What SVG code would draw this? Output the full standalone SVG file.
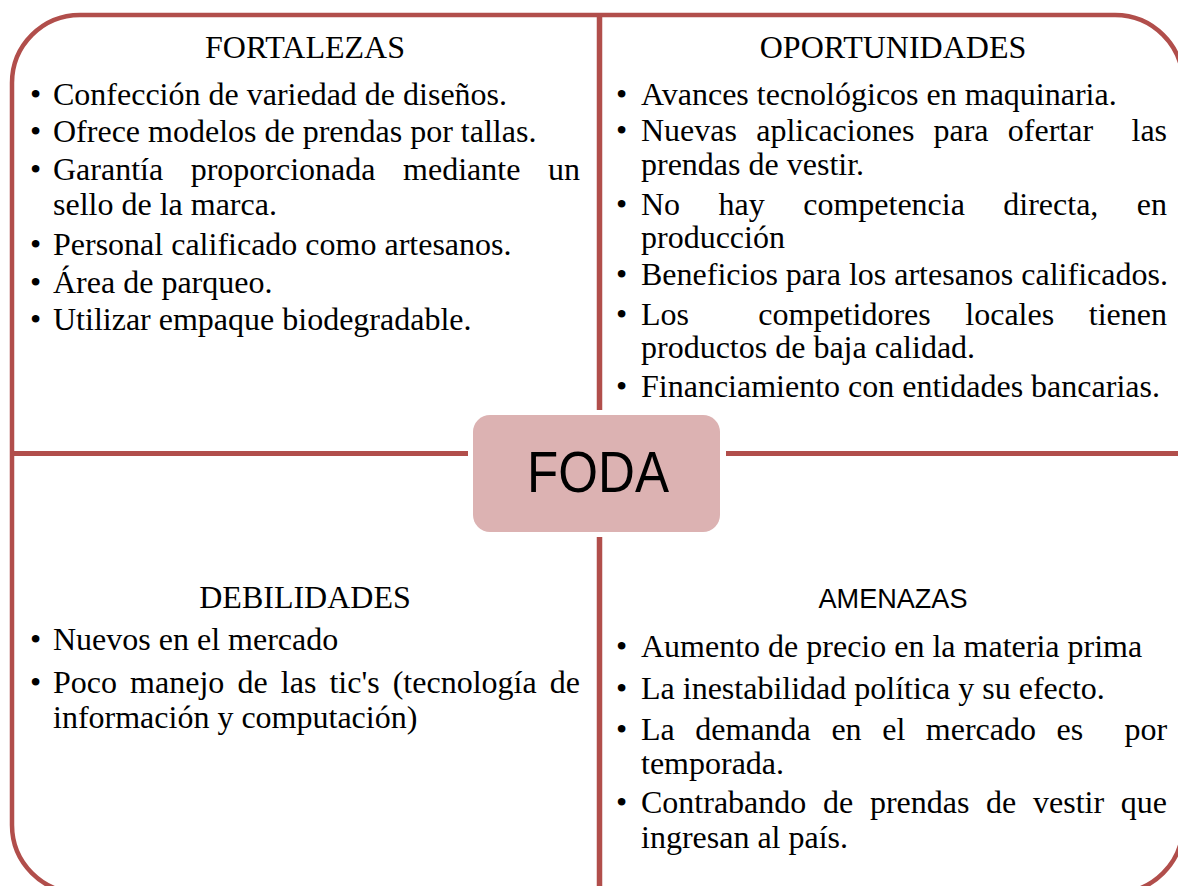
<svg xmlns="http://www.w3.org/2000/svg" width="1178" height="886" viewBox="0 0 1178 886">
<style>
.t{font-family:"Liberation Serif","Times New Roman",serif;font-size:32px;fill:#000}
.h{text-anchor:middle}
.s{font-family:"Liberation Sans",Arial,sans-serif;fill:#000}
.ln{stroke:#b14e4b;fill:none}
</style>
<rect width="1178" height="886" fill="#fff"/>
<g id="connectors">
<rect class="ln" x="12" y="15" width="1171" height="878" rx="68" ry="68" stroke-width="4.5"/>
<line class="ln" x1="599.5" y1="15" x2="599.5" y2="410" stroke-width="5.5"/>
<line class="ln" x1="599.5" y1="537" x2="599.5" y2="893" stroke-width="5.5"/>
<line class="ln" x1="12" y1="453.5" x2="468" y2="453.5" stroke-width="5"/>
<line class="ln" x1="726" y1="453.5" x2="1183" y2="453.5" stroke-width="5"/>
</g>
<g id="foda">
<rect x="473" y="415" width="247" height="117" rx="17" ry="17" fill="#dcb2b2"/>
<text class="s" x="598" y="492" font-size="58" text-anchor="middle" textLength="142" lengthAdjust="spacingAndGlyphs">FODA</text>
</g>
<g id="fortalezas" class="t">
<text class="h" x="305" y="58">FORTALEZAS</text>
<text x="30" y="105">•</text><text x="53" y="105">Confección de variedad de diseños.</text>
<text x="30" y="142">•</text><text x="53" y="142">Ofrece modelos de prendas por tallas.</text>
<text x="30" y="180">•</text><text y="180"><tspan x="53">Garantía</tspan><tspan x="190.7">proporcionada</tspan><tspan x="403.1">mediante</tspan><tspan x="548">un</tspan></text>
<text x="53" y="215">sello de la marca.</text>
<text x="30" y="255">•</text><text x="53" y="255">Personal calificado como artesanos.</text>
<text x="30" y="293">•</text><text x="53" y="293">Área de parqueo.</text>
<text x="30" y="330">•</text><text x="53" y="330">Utilizar empaque biodegradable.</text>
</g>
<g id="oportunidades" class="t">
<text class="h" x="893" y="58">OPORTUNIDADES</text>
<text x="616" y="105">•</text><text x="641" y="105">Avances tecnológicos en maquinaria.</text>
<text x="616" y="141">•</text><text y="141"><tspan x="641">Nuevas</tspan><tspan x="756.2">aplicaciones</tspan><tspan x="933.5">para</tspan><tspan x="1007.8">ofertar</tspan><tspan x="1131.5">las</tspan></text>
<text x="641" y="175">prendas de vestir.</text>
<text x="616" y="215">•</text><text y="215"><tspan x="641">No</tspan><tspan x="718.5">hay</tspan><tspan x="803.2">competencia</tspan><tspan x="1003.3">directa,</tspan><tspan x="1136.8">en</tspan></text>
<text x="641" y="248">producción</text>
<text x="616" y="285">•</text><text x="641" y="285">Beneficios para los artesanos calificados.</text>
<text x="616" y="325">•</text><text y="325"><tspan x="641">Los</tspan><tspan x="758.3">competidores</tspan><tspan x="965.3">locales</tspan><tspan x="1088.8">tienen</tspan></text>
<text x="641" y="358">productos de baja calidad.</text>
<text x="616" y="397">•</text><text x="641" y="397">Financiamiento con entidades bancarias.</text>
</g>
<g id="debilidades" class="t">
<text class="h" x="305" y="608">DEBILIDADES</text>
<text x="30" y="650">•</text><text x="53" y="650">Nuevos en el mercado</text>
<text x="30" y="693">•</text><text y="693"><tspan x="53">Poco</tspan><tspan x="130.1">manejo</tspan><tspan x="237.4">de</tspan><tspan x="280.8">las</tspan><tspan x="329.4">tic's</tspan><tspan x="392.7">(tecnología</tspan><tspan x="549.8">de</tspan></text>
<text x="53" y="728">información y computación)</text>
</g>
<g id="amenazas" class="t">
<text class="s h" x="893" y="608" font-size="28" textLength="149" lengthAdjust="spacingAndGlyphs">AMENAZAS</text>
<text x="616" y="657">•</text><text x="641" y="657">Aumento de precio en la materia prima</text>
<text x="616" y="699">•</text><text x="641" y="699">La inestabilidad política y su efecto.</text>
<text x="616" y="740">•</text><text y="740"><tspan x="641">La</tspan><tspan x="695.3">demanda</tspan><tspan x="831.4">en</tspan><tspan x="882.2">el</tspan><tspan x="925.8">mercado</tspan><tspan x="1056.6">es</tspan><tspan x="1124.4">por</tspan></text>
<text x="641" y="774">temporada.</text>
<text x="616" y="813">•</text><text y="813"><tspan x="641">Contrabando</tspan><tspan x="823">de</tspan><tspan x="869.9">prendas</tspan><tspan x="986.1">de</tspan><tspan x="1033">vestir</tspan><tspan x="1120.8">que</tspan></text>
<text x="641" y="848">ingresan al país.</text>
</g>
</svg>
